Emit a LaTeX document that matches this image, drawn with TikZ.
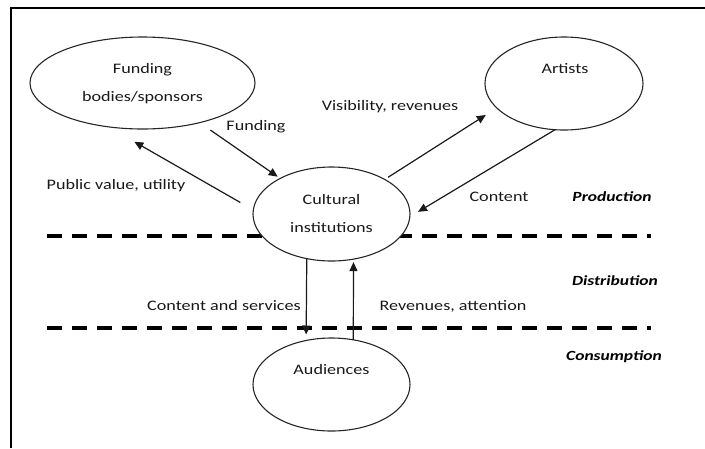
\documentclass[tikz,border=0pt]{standalone}
\usepackage{fontspec}
\setmainfont[FakeStretch=1.25]{Carlito}
\usetikzlibrary{arrows.meta,shapes.geometric}
\tikzset{
  oval/.style={ellipse,draw=black!85,line width=1.1pt,fill=white,inner sep=0pt,outer sep=0pt},
  arr/.style={line width=1.2pt,draw=black!90,-{Triangle[length=9pt,width=8pt]}},
  lbl/.style={inner sep=0pt,font=\fontsize{14.5}{28}\selectfont,align=center,text=black!90},
  stage/.style={inner sep=0pt,font=\fontsize{14}{16}\selectfont\bfseries\itshape,text=black},
  dashline/.style={line width=3.2pt,draw=black,dash pattern=on 15pt off 10pt}
}
\begin{document}
\begin{tikzpicture}[x=1pt,y=-1pt]
\useasboundingbox (0,0) rectangle (705,448);
% frame
\draw[line width=1.5pt] (11,448) -- (11,8) -- (705,8);
% level separators
\draw[dashline] (47,236) -- (651,236);
\draw[dashline] (47,328) -- (651,328);
% ellipses
\node[oval,minimum width=225pt,minimum height=92pt] (fund) at (142.5,83) {};
\node[oval,minimum width=158pt,minimum height=93pt] (art) at (564,83.5) {};
\node[oval,minimum width=157pt,minimum height=94pt] (cult) at (331.5,214) {};
\node[oval,minimum width=157pt,minimum height=93pt] (aud) at (331.5,384.5) {};
% ellipse texts
\node[lbl] (tfund) at (142.5,84) {Funding\\bodies/sponsors};
\node[lbl] (tart) at (565,69) {Artists};
\node[lbl] (tcult) at (331.5,214) {Cultural\\institutions};
\node[lbl] (taud) at (331.5,370) {Audiences};
% arrows
\draw[arr,shorten <=13pt,shorten >=3pt] (fund) -- (cult);
\draw[arr,shorten <=15pt,shorten >=30pt] (cult.177.5) -- (fund.232.7);
\draw[arr,shorten <=4pt,shorten >=13pt] (cult.33.8) -- (art.200.2);
\draw[arr,shorten >=9.5pt] (art.259) -- (cult.-2.1);
\draw[arr,shorten >=6pt] (cult.-119.9) -- (aud.120.1);
\draw[arr,shorten >=3pt] (aud.64.3) -- (cult.-64.6);
% arrow labels
\node[lbl] (lfunding) at (256,127) {Funding};
\node[lbl] (lpublic) at (116,186) {Public value, utility};
\node[lbl] (lvis) at (390,107) {Visibility, revenues};
\node[lbl] (lcontent) at (499,197) {Content};
\node[lbl] (lcs) at (224,306) {Content and services};
\node[lbl] (lrev) at (453,306) {Revenues, attention};
% stage labels
\node[stage] (sprod) at (612,197) {Production};
\node[stage] (sdist) at (615,281) {Distribution};
\node[stage] (scons) at (614,357) {Consumption};
\end{tikzpicture}
\end{document}
